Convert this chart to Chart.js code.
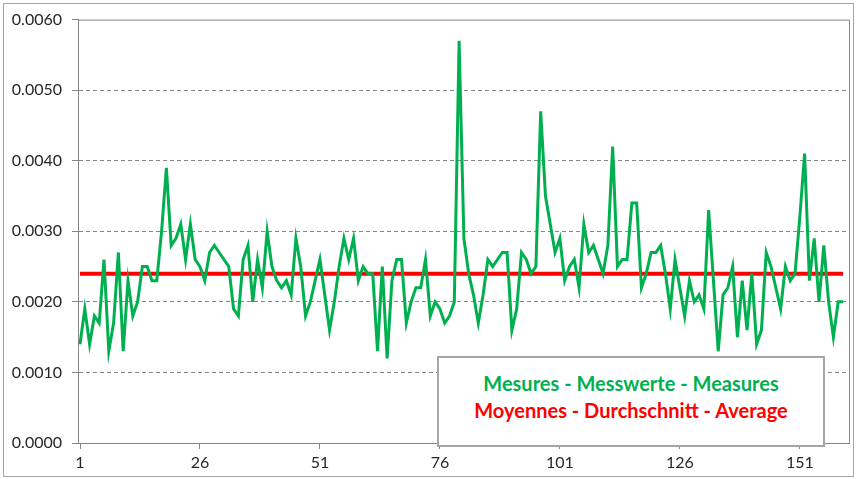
<!DOCTYPE html>
<html>
<head>
<meta charset="utf-8">
<script src="https://cdn.jsdelivr.net/npm/chart.js@4.4.1/dist/chart.umd.min.js"></script>
<style>
    html, body { margin: 0; padding: 0; background: #fff; }
    #wrap { position: relative; width: 859px; height: 479px; }
    #frame { position: absolute; left: 3px; top: 3px; width: 849px; height: 472px; border: 1px solid #a6a6a6; pointer-events: none; }
    #legendBox {
        position: absolute; left: 437px; top: 356px; width: 384px; height: 75px;
        border: 2px solid #a6a6a6; background: #fff;
        font-family: Lato, "Open Sans", sans-serif; font-weight: bold; font-size: 20px;
        text-align: center; line-height: 27px; padding-top: 12px; box-sizing: content-box;
    }
    #legendBox .m { color: #00b050; }
    #legendBox .a { color: #ff0000; }
</style>
</head>
<body>
<div id="wrap">
    <canvas id="measuresChart" width="859" height="479"></canvas>
    <div id="frame"></div>
    <div id="legendBox">
        <div class="m">Mesures - Messwerte - Measures</div>
        <div class="a">Moyennes - Durchschnitt - Average</div>
    </div>
</div>
<script>
const measures = [
    0.0014, 0.0019, 0.0014, 0.0018, 0.0017, 0.0026, 0.0013, 0.0017, 0.0027, 0.0013,
    0.0023, 0.0018, 0.0020, 0.0025, 0.0025, 0.0023, 0.0023, 0.0030, 0.0039, 0.0028,
    0.0029, 0.0031, 0.0026, 0.0031, 0.0026, 0.0025, 0.0023, 0.0027, 0.0028, 0.0027,
    0.0026, 0.0025, 0.0019, 0.0018, 0.0026, 0.0028, 0.0020, 0.0026, 0.0022, 0.0030,
    0.0025, 0.0023, 0.0022, 0.0023, 0.0021, 0.0029, 0.0025, 0.0018, 0.0020, 0.0023,
    0.0026, 0.0021, 0.0016, 0.0020, 0.0025, 0.0029, 0.0026, 0.0029, 0.0023, 0.0025,
    0.0024, 0.0024, 0.0013, 0.0025, 0.0012, 0.0023, 0.0026, 0.0026, 0.0017, 0.0020,
    0.0022, 0.0022, 0.0026, 0.0018, 0.0020, 0.0019, 0.0017, 0.0018, 0.0020, 0.0057,
    0.0029, 0.0024, 0.0021, 0.0017, 0.0021, 0.0026, 0.0025, 0.0026, 0.0027, 0.0027,
    0.0016, 0.0019, 0.0027, 0.0026, 0.0024, 0.0025, 0.0047, 0.0035, 0.0031, 0.0027,
    0.0029, 0.0023, 0.0025, 0.0026, 0.0022, 0.0031, 0.0027, 0.0028, 0.0026, 0.0024,
    0.0028, 0.0042, 0.0025, 0.0026, 0.0026, 0.0034, 0.0034, 0.0022, 0.0024, 0.0027,
    0.0027, 0.0028, 0.0024, 0.0019, 0.0026, 0.0022, 0.0018, 0.0023, 0.0020, 0.0021,
    0.0019, 0.0033, 0.0023, 0.0013, 0.0021, 0.0022, 0.0025, 0.0015, 0.0023, 0.0016,
    0.0024, 0.0014, 0.0016, 0.0027, 0.0025, 0.0022, 0.0019, 0.0025, 0.0023, 0.0024,
    0.0032, 0.0041, 0.0023, 0.0029, 0.0020, 0.0028, 0.0020, 0.0015, 0.0020, 0.0020
];
const averageValue = 0.0024;
const xTickValues = [1, 26, 51, 76, 101, 126, 151];
const yTickValues = [0, 0.001, 0.002, 0.003, 0.004, 0.005, 0.006];

const measurePoints = measures.map((v, i) => ({ x: i + 1, y: v }));
const averagePoints = measures.map((v, i) => ({ x: i + 1, y: averageValue }));

const axisGray = '#868686';
const tickFont = { family: 'Lato, "Open Sans", sans-serif', size: 16 };

// top and right edges of the plot area
const plotFrame = {
    id: 'plotFrame',
    afterDatasetsDraw(chart) {
        const { ctx, chartArea: a } = chart;
        ctx.save();
        ctx.strokeStyle = axisGray;
        ctx.lineWidth = 1;
        ctx.beginPath();
        ctx.moveTo(a.left, a.top + 0.5);
        ctx.lineTo(a.right + 0.5, a.top + 0.5);
        ctx.lineTo(a.right + 0.5, a.bottom);
        ctx.stroke();
        ctx.restore();
    }
};

new Chart(document.getElementById('measuresChart').getContext('2d'), {
    type: 'line',
    data: {
        datasets: [
            {
                label: 'Mesures - Messwerte - Measures',
                data: measurePoints,
                borderColor: '#00b050',
                borderWidth: 3,
                pointRadius: 0,
                tension: 0
            },
            {
                label: 'Moyennes - Durchschnitt - Average',
                data: averagePoints,
                borderColor: '#ff0000',
                borderWidth: 4,
                pointRadius: 0,
                tension: 0
            }
        ]
    },
    options: {
        responsive: false,
        animation: false,
        events: [],
        layout: { padding: { top: 18, right: 10, left: 0, bottom: 0 } },
        plugins: {
            legend: { display: false },
            tooltip: { enabled: false }
        },
        scales: {
            x: {
                type: 'linear',
                min: 0.583,
                max: 161.25,
                afterBuildTicks: scale => { scale.ticks = xTickValues.map(v => ({ value: v })); },
                afterFit: scale => { scale.height = 36; },
                ticks: { font: tickFont, color: '#262626', padding: 4, maxRotation: 0, autoSkip: false },
                grid: { drawOnChartArea: false, tickLength: 6, color: axisGray },
                border: { color: axisGray, width: 1 }
            },
            y: {
                min: 0,
                max: 0.006,
                afterBuildTicks: scale => { scale.ticks = yTickValues.map(v => ({ value: v })); },
                afterFit: scale => { scale.width = 78; },
                ticks: {
                    font: tickFont,
                    color: '#262626',
                    padding: 10,
                    callback: v => Number(v).toFixed(4)
                },
                grid: {
                    tickLength: 6,
                    color: ctx => (ctx.tick && ctx.tick.value > 0 && ctx.tick.value < 0.0059) ? axisGray : 'transparent',
                    tickColor: axisGray,
                    tickBorderDash: []
                },
                border: { color: axisGray, width: 1, dash: [4, 3] }
            }
        }
    },
    plugins: [plotFrame]
});
</script>
</body>
</html>
